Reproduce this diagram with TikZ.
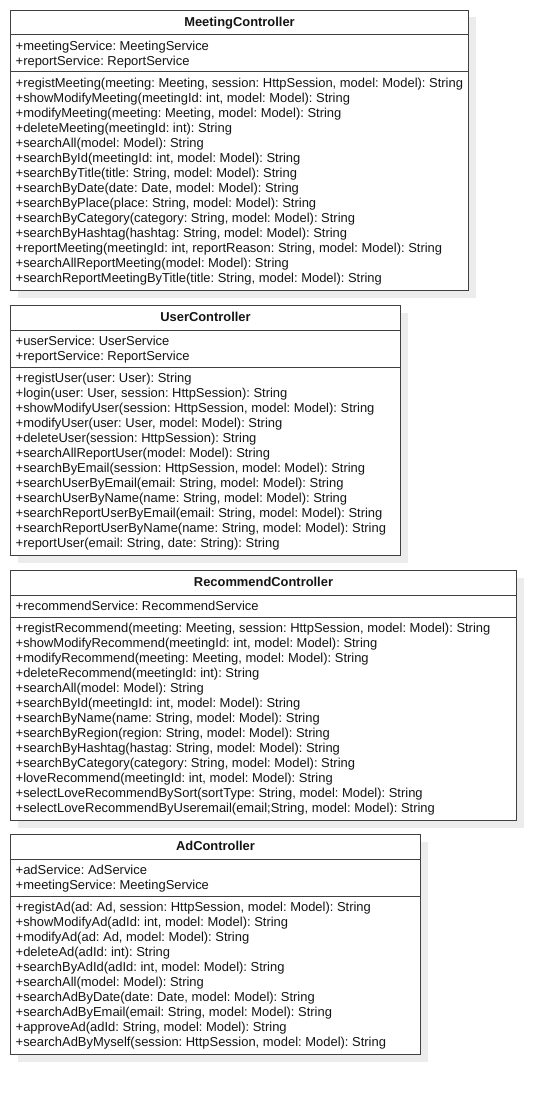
\documentclass[tikz,border=0pt]{standalone}
\usepackage{fontspec}
\setmainfont{Liberation Sans}
\usetikzlibrary{shadows,calc}
\definecolor{shadowgray}{RGB}{236,236,236}
\definecolor{linegray}{RGB}{64,64,64}
\definecolor{textgray}{RGB}{20,20,20}
\newcommand{\firstln}{\rule{0pt}{10pt}}
\frenchspacing
\tikzset{
  classbox/.style={draw=linegray, line width=1pt, fill=white, rectangle, inner sep=0pt, anchor=north west,
    drop shadow={shadow xshift=7pt, shadow yshift=-7pt, fill=shadowgray, opacity=1}},
  sepline/.style={draw=linegray, line width=1pt},
  classtitle/.style={anchor=base, inner sep=0pt, text=textgray, font=\fontsize{12.9}{15}\selectfont\bfseries},
  members/.style={anchor=north west, inner sep=0pt, align=left, text=textgray, font=\fontsize{12.95}{15}\selectfont\frenchspacing},
}
\begin{document}
\begin{tikzpicture}[x=1pt,y=-1pt]
\useasboundingbox[fill=white] (0,0) rectangle (557,1094);

% MeetingController
\node[classbox, minimum width=458pt, minimum height=280pt] (mc) at (10,10) {};
\draw[sepline] ($(mc.north west)+(0,25)$) -- ($(mc.north east)+(0,25)$);
\draw[sepline] ($(mc.north west)+(0,62)$) -- ($(mc.north east)+(0,62)$);
\node[classtitle] (mct) at ($(mc.north)+(0,16.5)$) {MeetingController};
\node[members] (mca) at ($(mc.north west)+(5.5,30.5)$) {\firstln+meetingService: MeetingService\\+reportService: ReportService};
\node[members] (mcm) at ($(mc.north west)+(5.5,67.5)$) {\firstln+registMeeting(meeting: Meeting, session: HttpSession, model: Model): String\\
+showModifyMeeting(meetingId: int, model: Model): String\\
+modifyMeeting(meeting: Meeting, model: Model): String\\
+deleteMeeting(meetingId: int): String\\
+searchAll(model: Model): String\\
+searchById(meetingId: int, model: Model): String\\
+searchByTitle(title: String, model: Model): String\\
+searchByDate(date: Date, model: Model): String\\
+searchByPlace(place: String, model: Model): String\\
+searchByCategory(category: String, model: Model): String\\
+searchByHashtag(hashtag: String, model: Model): String\\
+reportMeeting(meetingId: int, reportReason: String, model: Model): String\\
+searchAllReportMeeting(model: Model): String\\
+searchReportMeetingByTitle(title: String, model: Model): String};

% UserController
\node[classbox, minimum width=390pt, minimum height=250pt] (uc) at (10,305) {};
\draw[sepline] ($(uc.north west)+(0,25)$) -- ($(uc.north east)+(0,25)$);
\draw[sepline] ($(uc.north west)+(0,62)$) -- ($(uc.north east)+(0,62)$);
\node[classtitle] (uct) at ($(uc.north)+(0,16.5)$) {UserController};
\node[members] (uca) at ($(uc.north west)+(5.5,30.5)$) {\firstln+userService: UserService\\+reportService: ReportService};
\node[members] (ucm) at ($(uc.north west)+(5.5,67.5)$) {\firstln+registUser(user: User): String\\
+login(user: User, session: HttpSession): String\\
+showModifyUser(session: HttpSession, model: Model): String\\
+modifyUser(user: User, model: Model): String\\
+deleteUser(session: HttpSession): String\\
+searchAllReportUser(model: Model): String\\
+searchByEmail(session: HttpSession, model: Model): String\\
+searchUserByEmail(email: String, model: Model): String\\
+searchUserByName(name: String, model: Model): String\\
+searchReportUserByEmail(email: String, model: Model): String\\
+searchReportUserByName(name: String, model: Model): String\\
+reportUser(email: String, date: String): String};

% RecommendController
\node[classbox, minimum width=506pt, minimum height=250pt] (rc) at (10,570) {};
\draw[sepline] ($(rc.north west)+(0,25)$) -- ($(rc.north east)+(0,25)$);
\draw[sepline] ($(rc.north west)+(0,47)$) -- ($(rc.north east)+(0,47)$);
\node[classtitle] (rct) at ($(rc.north)+(0,16.5)$) {RecommendController};
\node[members] (rca) at ($(rc.north west)+(5.5,30.5)$) {\firstln+recommendService: RecommendService};
\node[members] (rcm) at ($(rc.north west)+(5.5,52.5)$) {\firstln+registRecommend(meeting: Meeting, session: HttpSession, model: Model): String\\
+showModifyRecommend(meetingId: int, model: Model): String\\
+modifyRecommend(meeting: Meeting, model: Model): String\\
+deleteRecommend(meetingId: int): String\\
+searchAll(model: Model): String\\
+searchById(meetingId: int, model: Model): String\\
+searchByName(name: String, model: Model): String\\
+searchByRegion(region: String, model: Model): String\\
+searchByHashtag(hastag: String, model: Model): String\\
+searchByCategory(category: String, model: Model): String\\
+loveRecommend(meetingId: int, model: Model): String\\
+selectLoveRecommendBySort(sortType: String, model: Model): String\\
+selectLoveRecommendByUseremail(email;String, model: Model): String};

% AdController
\node[classbox, minimum width=410pt, minimum height=220pt] (ac) at (10,834) {};
\draw[sepline] ($(ac.north west)+(0,25)$) -- ($(ac.north east)+(0,25)$);
\draw[sepline] ($(ac.north west)+(0,62)$) -- ($(ac.north east)+(0,62)$);
\node[classtitle] (act) at ($(ac.north)+(0,16.5)$) {AdController};
\node[members] (aca) at ($(ac.north west)+(5.5,30.5)$) {\firstln+adService: AdService\\+meetingService: MeetingService};
\node[members] (acm) at ($(ac.north west)+(5.5,67.5)$) {\firstln+registAd(ad: Ad, session: HttpSession, model: Model): String\\
+showModifyAd(adId: int, model: Model): String\\
+modifyAd(ad: Ad, model: Model): String\\
+deleteAd(adId: int): String\\
+searchByAdId(adId: int, model: Model): String\\
+searchAll(model: Model): String\\
+searchAdByDate(date: Date, model: Model): String\\
+searchAdByEmail(email: String, model: Model): String\\
+approveAd(adId: String, model: Model): String\\
+searchAdByMyself(session: HttpSession, model: Model): String};
\end{tikzpicture}
\end{document}
